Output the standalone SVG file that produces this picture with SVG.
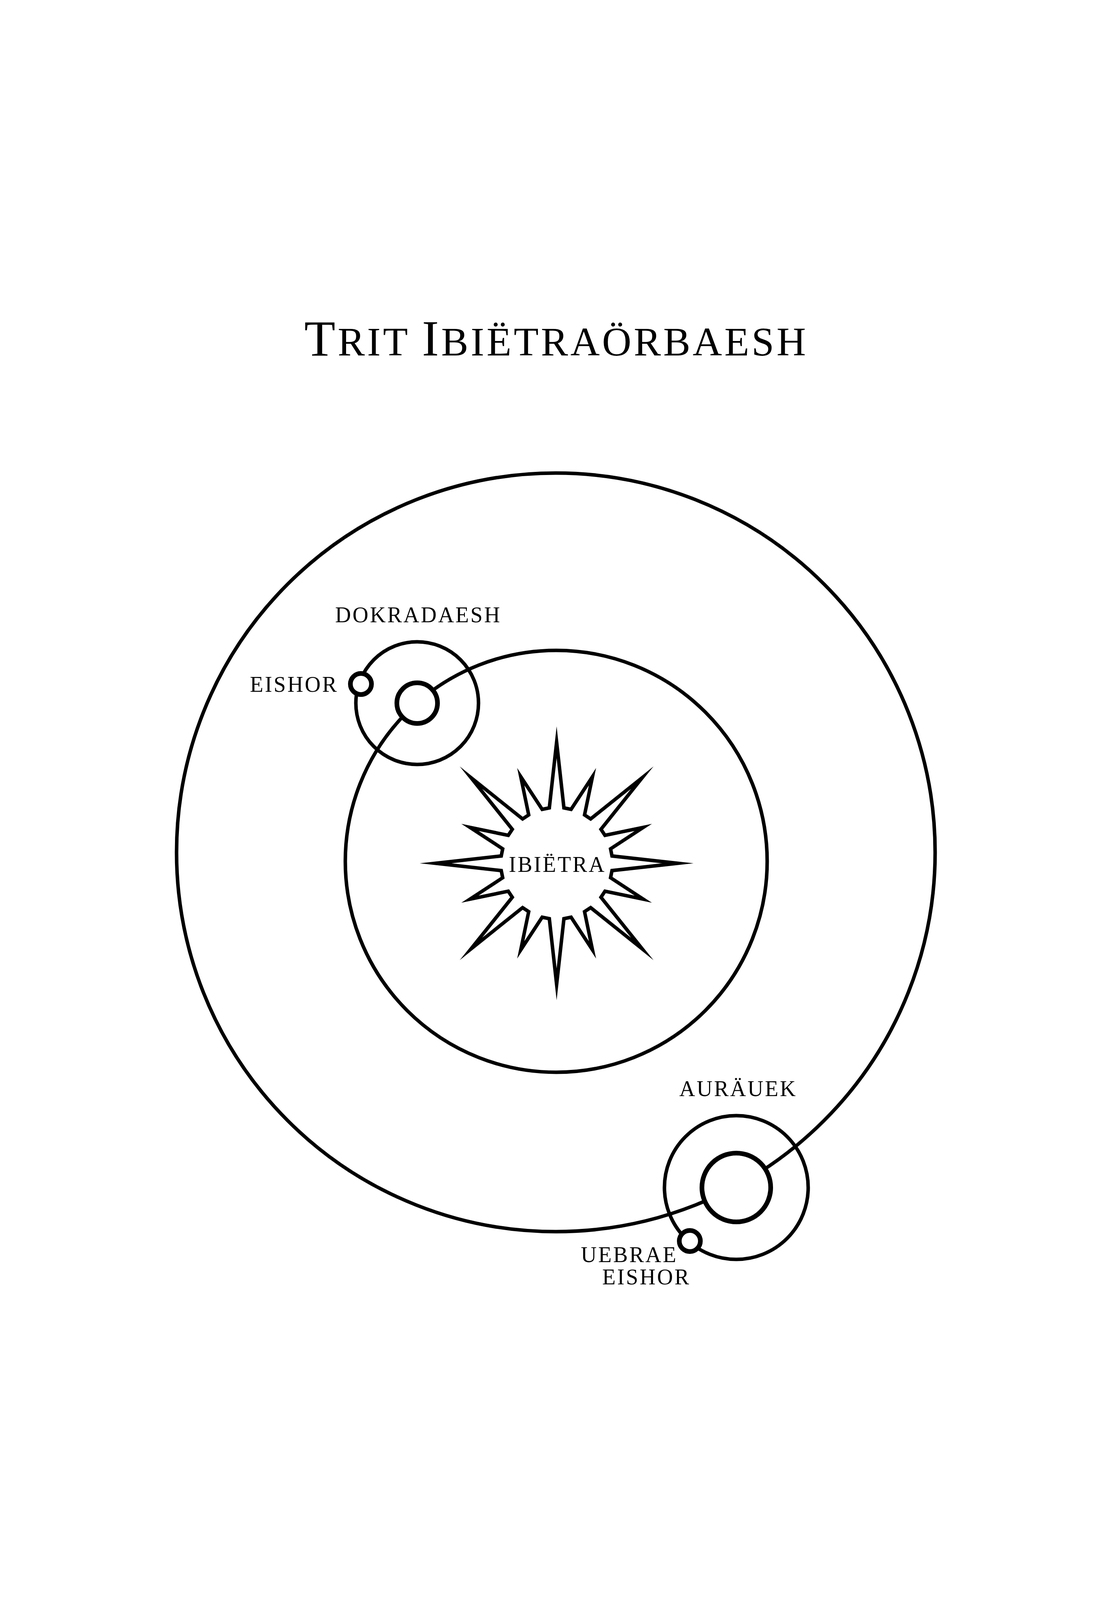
<svg xmlns="http://www.w3.org/2000/svg" width="2834" height="4488" viewBox="0 0 2834 4488">
<style>
.ln{fill:none;stroke:#000;stroke-width:9}
.pl{fill:#fff;stroke:#000;stroke-width:12}
.t{font-family:"Liberation Serif",serif;fill:#000;font-size:56px;letter-spacing:4px}
</style>
<rect width="2834" height="4488" fill="#fff"/>
<text x="779" y="910" textLength="1284" lengthAdjust="spacing" font-family="Liberation Serif, serif" font-size="104"><tspan font-size="130">T</tspan>RIT <tspan font-size="130">I</tspan>BIËTRAÖRBAESH</text>
<g id="connectors">
<circle id="outer-orbit" class="ln" cx="1423" cy="2182" r="971"/>
<circle id="inner-orbit" class="ln" cx="1424" cy="2205" r="540"/>
<circle id="dok-orbit" class="ln" stroke-width="8" cx="1068" cy="1800" r="157"/>
<circle id="aur-orbit" class="ln" stroke-width="8" cx="1885" cy="3040" r="184"/>
</g>
<g id="ibietra">
<polygon transform="translate(1425,2210)" fill="#fff" stroke="#000" stroke-width="9" stroke-miterlimit="30" points="0,-310 18.7,-141.8 37,-138.1 91.8,-221.7 71.5,-123.8 87.1,-113.5 219.2,-219.2 113.5,-87.1 123.8,-71.5 221.7,-91.8 138.1,-37 141.8,-18.7 310,0 141.8,18.7 138.1,37 221.7,91.8 123.8,71.5 113.5,87.1 219.2,219.2 87.1,113.5 71.5,123.8 91.8,221.7 37,138.1 18.7,141.8 0,310 -18.7,141.8 -37,138.1 -91.8,221.7 -71.5,123.8 -87.1,113.5 -219.2,219.2 -113.5,87.1 -123.8,71.5 -221.7,91.8 -138.1,37 -141.8,18.7 -310,0 -141.8,-18.7 -138.1,-37 -221.7,-91.8 -123.8,-71.5 -113.5,-87.1 -219.2,-219.2 -87.1,-113.5 -71.5,-123.8 -91.8,-221.7 -37,-138.1 -18.7,-141.8"/>
<text class="t" x="1427" y="2232" text-anchor="middle">IBIËTRA</text>
</g>
<g id="dokradaesh">
<circle class="pl" cx="1068" cy="1800" r="52"/>
<text class="t" x="1071" y="1593" text-anchor="middle">DOKRADAESH</text>
</g>
<g id="eishor">
<circle class="pl" cx="924" cy="1751" r="27"/>
<text class="t" x="866" y="1771" text-anchor="end">EISHOR</text>
</g>
<g id="auraeuk">
<circle class="pl" cx="1885" cy="3040" r="88"/>
<text class="t" x="1890" y="2806" text-anchor="middle">AURÄUEK</text>
</g>
<g id="uebrae-eishor">
<circle class="pl" cx="1766" cy="3177" r="27"/>
<text class="t" x="1735" y="3231" text-anchor="end">UEBRAE</text>
<text class="t" x="1768" y="3288" text-anchor="end">EISHOR</text>
</g>
</svg>
